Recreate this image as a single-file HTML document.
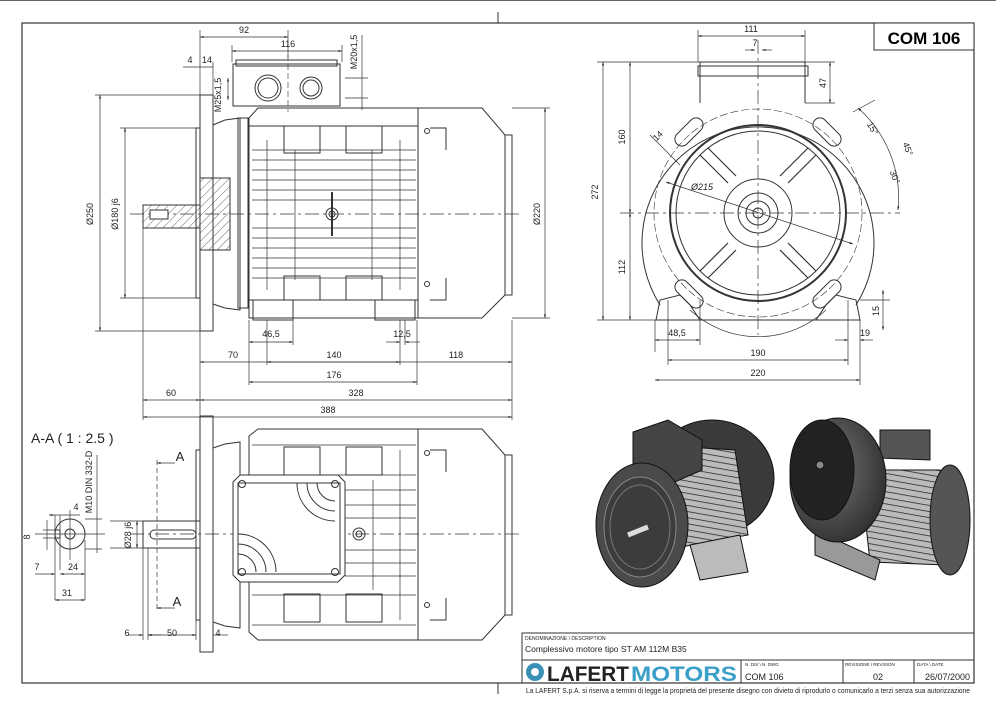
<!DOCTYPE html>
<html><head><meta charset="utf-8"><style>
html,body{margin:0;padding:0;background:#fff;}
svg{display:block;font-family:"Liberation Sans",Arial,sans-serif;}
</style></head><body>
<svg width="996" height="703" viewBox="0 0 996 703" xmlns="http://www.w3.org/2000/svg">
<defs>
<marker id="a" viewBox="0 0 10 10" refX="10" refY="5" markerWidth="6" markerHeight="5" orient="auto-start-reverse"><path d="M0,2 L10,5 L0,8z" fill="#222"/></marker>
<pattern id="h" width="6" height="6" patternUnits="userSpaceOnUse" patternTransform="rotate(45)"><line x1="0" y1="0" x2="0" y2="6" stroke="#444" stroke-width="0.8"/></pattern>
<pattern id="fin" width="6" height="6" patternUnits="userSpaceOnUse" patternTransform="rotate(10)"><rect width="6" height="6" fill="#bbb"/><line x1="0" y1="0" x2="6" y2="0" stroke="#222" stroke-width="1.5"/></pattern>
<radialGradient id="g1" cx="0.4" cy="0.4" r="0.7"><stop offset="0" stop-color="#777"/><stop offset="1" stop-color="#2a2a2a"/></radialGradient>
</defs>
<!-- frame -->
<line x1="0" y1="0.5" x2="996" y2="0.5" stroke="#666"/>
<rect x="22" y="23" width="952" height="660" fill="none" stroke="#333" stroke-width="1.2"/>
<line x1="498" y1="12" x2="498" y2="23" stroke="#333"/>
<line x1="498" y1="683" x2="498" y2="694" stroke="#333"/>
<rect x="874" y="23" width="100" height="27" fill="#fff" stroke="#333"/>
<text x="924" y="44" font-size="17" font-weight="bold" text-anchor="middle">COM 106</text>

<g fill="none" stroke="#333" stroke-width="1">
<!-- ===== TOP SIDE VIEW ===== -->
<line x1="130" y1="214" x2="520" y2="214" stroke-dasharray="14,4,3,4" stroke-width="0.7"/>
<rect x="200" y="95" width="13" height="236"/>
<rect x="196" y="128" width="4" height="170"/>
<path d="M213,125 L225,120 L240,118 L240,310 L225,308 L213,304"/>
<rect x="238" y="118" width="10" height="190"/>
<path d="M249,118 L258,108 L418,108 L418,318 L249,318 Z"/>
<line x1="249" y1="126" x2="418" y2="126"/>
<line x1="249" y1="300" x2="418" y2="300"/>
<g stroke-width="0.7">
<line x1="252" y1="150" x2="416" y2="150"/><line x1="252" y1="160" x2="416" y2="160"/><line x1="252" y1="170" x2="416" y2="170"/><line x1="252" y1="180" x2="416" y2="180"/><line x1="252" y1="190" x2="416" y2="190"/><line x1="252" y1="200" x2="416" y2="200"/><line x1="252" y1="228" x2="416" y2="228"/><line x1="252" y1="238" x2="416" y2="238"/><line x1="252" y1="248" x2="416" y2="248"/><line x1="252" y1="258" x2="416" y2="258"/><line x1="252" y1="268" x2="416" y2="268"/><line x1="252" y1="278" x2="416" y2="278"/>
<line x1="267" y1="140" x2="267" y2="290"/><line x1="295" y1="150" x2="295" y2="280"/><line x1="372" y1="150" x2="372" y2="280"/><line x1="400" y1="140" x2="400" y2="290"/>
</g>
<rect x="284" y="126" width="36" height="27"/><rect x="346" y="126" width="36" height="27"/>
<rect x="284" y="276" width="36" height="24"/><rect x="346" y="276" width="36" height="24"/>
<circle cx="332" cy="214" r="6"/><circle cx="332" cy="214" r="3"/>
<line x1="332" y1="192" x2="332" y2="236" stroke-width="2"/>
<rect x="253" y="300" width="40" height="20"/><rect x="375" y="300" width="40" height="20"/>
<path d="M418,108 L482,108 L505,135 L512,135 L512,295 L505,295 L482,318 L418,318 Z"/>
<line x1="505" y1="135" x2="505" y2="295"/>
<path d="M430,128 L446,128 L446,150 M430,300 L446,300 L446,278"/>
<circle cx="427" cy="131" r="2.5"/><circle cx="427" cy="284" r="2.5"/>
<!-- terminal box -->
<rect x="233" y="64" width="107" height="42"/>
<rect x="236" y="60" width="101" height="6"/>
<circle cx="268" cy="88" r="13"/><circle cx="268" cy="88" r="10"/>
<circle cx="311" cy="88" r="11"/><circle cx="311" cy="88" r="8"/>
<line x1="288" y1="55" x2="288" y2="112" stroke-dasharray="6,3" stroke-width="0.6"/>
<!-- shaft section -->
<path d="M143,205 L143,228 L200,228 L200,205 Z" fill="url(#h)"/>
<rect x="200" y="178" width="30" height="72" fill="url(#h)"/>
<rect x="150" y="210" width="18" height="9" fill="#fff"/>
<!-- dims top -->
<g stroke-width="0.7">
<line x1="200" y1="30" x2="200" y2="95"/><line x1="288" y1="30" x2="288" y2="58"/>
<line x1="200" y1="37" x2="288" y2="37" marker-start="url(#a)" marker-end="url(#a)"/>
<line x1="232" y1="45" x2="232" y2="62"/><line x1="342" y1="45" x2="342" y2="62"/>
<line x1="232" y1="51" x2="342" y2="51" marker-start="url(#a)" marker-end="url(#a)"/>
<line x1="183" y1="67" x2="213" y2="67"/><line x1="213" y1="62" x2="213" y2="95"/>
<line x1="228" y1="78" x2="228" y2="100" marker-start="url(#a)" marker-end="url(#a)"/>
<line x1="362" y1="35" x2="362" y2="110"/>
<line x1="345" y1="78" x2="368" y2="78"/><line x1="345" y1="98" x2="368" y2="98"/>
<line x1="95" y1="95" x2="200" y2="95"/><line x1="95" y1="331" x2="200" y2="331"/>
<line x1="100" y1="95" x2="100" y2="331" marker-start="url(#a)" marker-end="url(#a)"/>
<line x1="120" y1="128" x2="196" y2="128"/><line x1="120" y1="298" x2="196" y2="298"/>
<line x1="125" y1="128" x2="125" y2="298" marker-start="url(#a)" marker-end="url(#a)"/>
<line x1="512" y1="108" x2="550" y2="108"/><line x1="512" y1="318" x2="550" y2="318"/>
<line x1="545" y1="108" x2="545" y2="318" marker-start="url(#a)" marker-end="url(#a)"/>
<line x1="249" y1="320" x2="249" y2="385"/><line x1="267" y1="320" x2="267" y2="365"/><line x1="293" y1="320" x2="293" y2="345"/>
<line x1="249" y1="342" x2="293" y2="342" marker-start="url(#a)" marker-end="url(#a)"/>
<line x1="400" y1="320" x2="400" y2="365"/><line x1="405" y1="320" x2="405" y2="345"/><line x1="417" y1="320" x2="417" y2="385"/>
<line x1="386" y1="342" x2="400" y2="342" marker-end="url(#a)"/><line x1="420" y1="342" x2="405" y2="342" marker-end="url(#a)"/>
<line x1="200" y1="331" x2="200" y2="420"/><line x1="512" y1="320" x2="512" y2="420"/><line x1="143" y1="228" x2="143" y2="420"/>
<line x1="200" y1="362" x2="512" y2="362" marker-start="url(#a)" marker-end="url(#a)"/>
<line x1="267" y1="362" x2="400" y2="362" marker-start="url(#a)" marker-end="url(#a)"/>
<line x1="249" y1="382" x2="417" y2="382" marker-start="url(#a)" marker-end="url(#a)"/>
<line x1="143" y1="400" x2="200" y2="400" marker-start="url(#a)" marker-end="url(#a)"/>
<line x1="200" y1="400" x2="512" y2="400" marker-start="url(#a)" marker-end="url(#a)"/>
<line x1="143" y1="417" x2="512" y2="417" marker-start="url(#a)" marker-end="url(#a)"/>
</g>

<!-- ===== BOTTOM VIEW ===== -->
<line x1="130" y1="534" x2="520" y2="534" stroke-dasharray="14,4,3,4" stroke-width="0.7"/>
<rect x="200" y="416" width="13" height="236"/>
<rect x="196" y="450" width="4" height="170"/>
<path d="M213,448 L225,444 L240,442 L240,628 L225,626 L213,622"/>
<path d="M249,436 L258,429 L418,429 L418,640 L258,640 L249,632 Z"/>
<g stroke-width="0.7">
<line x1="252" y1="445" x2="416" y2="445"/><line x1="252" y1="475" x2="416" y2="475"/><line x1="345" y1="490" x2="416" y2="490"/><line x1="345" y1="505" x2="416" y2="505"/><line x1="345" y1="518" x2="416" y2="518"/><line x1="345" y1="550" x2="416" y2="550"/><line x1="345" y1="563" x2="416" y2="563"/><line x1="345" y1="576" x2="416" y2="576"/><line x1="252" y1="595" x2="416" y2="595"/><line x1="252" y1="625" x2="416" y2="625"/>
<line x1="373" y1="480" x2="373" y2="590"/><line x1="400" y1="450" x2="400" y2="620"/>
</g>
<rect x="284" y="447" width="36" height="28"/><rect x="346" y="447" width="36" height="28"/>
<rect x="284" y="594" width="36" height="28"/><rect x="346" y="594" width="36" height="28"/>
<circle cx="359" cy="534" r="6"/><circle cx="359" cy="534" r="3"/>
<path d="M418,429 L482,429 L505,455 L512,455 L512,615 L505,615 L482,640 L418,640 Z"/>
<line x1="505" y1="455" x2="505" y2="615"/>
<path d="M430,450 L446,450 L446,472 M430,620 L446,620 L446,598"/>
<circle cx="427" cy="453" r="2.5"/><circle cx="427" cy="605" r="2.5"/>
<path d="M240,475 L338,475 L345,482 L345,575 L338,582 L240,582 L233,575 L233,482 Z" fill="#fff"/>
<rect x="238" y="483" width="102" height="91"/>
<circle cx="242" cy="484" r="3.5"/><circle cx="335" cy="484" r="3.5"/><circle cx="242" cy="572" r="3.5"/><circle cx="335" cy="572" r="3.5"/>
<path d="M297,483 A38,38 0 0 0 335,521 M307,483 A28,28 0 0 0 335,511 M317,483 A18,18 0 0 0 335,501"/>
<path d="M238,534 A38,38 0 0 1 276,572 M238,544 A28,28 0 0 1 266,572 M238,554 A18,18 0 0 1 256,572"/>
<rect x="143" y="521" width="57" height="27"/>
<rect x="150" y="530" width="46" height="9" rx="4.5"/>
<g stroke-width="0.7">
<line x1="157" y1="460" x2="157" y2="610" stroke-dasharray="5,3"/>
<line x1="175" y1="463" x2="157" y2="463" marker-end="url(#a)"/>
<line x1="175" y1="608" x2="157" y2="608" marker-end="url(#a)"/>
<line x1="110" y1="521" x2="143" y2="521"/><line x1="110" y1="548" x2="143" y2="548"/>
<line x1="137" y1="521" x2="137" y2="548" marker-start="url(#a)" marker-end="url(#a)"/>
<line x1="143" y1="548" x2="143" y2="640"/><line x1="148" y1="548" x2="148" y2="640"/><line x1="196" y1="620" x2="196" y2="640"/>
<line x1="128" y1="635" x2="143" y2="635" marker-end="url(#a)"/><line x1="162" y1="635" x2="148" y2="635" marker-end="url(#a)"/>
<line x1="148" y1="635" x2="196" y2="635" marker-start="url(#a)" marker-end="url(#a)"/>
<line x1="213" y1="635" x2="228" y2="635"/>
</g>

<!-- Section A-A -->
<circle cx="70" cy="534" r="15"/>
<circle cx="70" cy="534" r="5"/>
<rect x="55" y="530" width="5" height="8"/>
<g stroke-width="0.7">
<line x1="35" y1="534" x2="105" y2="534"/>
<line x1="70" y1="510" x2="70" y2="560"/>
<line x1="47" y1="520" x2="47" y2="550"/><line x1="43" y1="530" x2="60" y2="530"/><line x1="43" y1="538" x2="60" y2="538"/>
<line x1="97" y1="455" x2="97" y2="553"/><line x1="85" y1="519" x2="102" y2="519"/><line x1="85" y1="549" x2="102" y2="549"/>
<line x1="55" y1="515" x2="55" y2="600"/><line x1="60" y1="515" x2="60" y2="570"/><line x1="85" y1="540" x2="85" y2="600"/>
<line x1="49" y1="515" x2="80" y2="515" marker-start="url(#a)"/>
<line x1="35" y1="574" x2="55" y2="574" marker-end="url(#a)"/>
<line x1="60" y1="574" x2="85" y2="574" marker-start="url(#a)" marker-end="url(#a)"/>
<line x1="55" y1="600" x2="85" y2="600" marker-start="url(#a)" marker-end="url(#a)"/>
</g>

<!-- ===== FRONT VIEW ===== -->
<g stroke-width="0.7">
<line x1="620" y1="213" x2="900" y2="213" stroke-dasharray="14,4,3,4"/>
<line x1="758" y1="40" x2="758" y2="335" stroke-dasharray="14,4,3,4"/>
</g>
<path d="M700,103 L700,62 L805,62 L805,103"/>
<rect x="698" y="66" width="110" height="10"/>
<path d="M660,305 A116,116 0 1 1 856,305"/>
<path d="M656,320 L660,300 L680,295 L690,305 L700,320 Z"/>
<path d="M860,320 L856,300 L836,295 L826,305 L816,320 Z"/>
<line x1="656" y1="320" x2="860" y2="320"/>
<path d="M690,310 A100,100 0 0 0 826,310" stroke-width="0.7"/>
<circle cx="758" cy="213" r="104" stroke-dasharray="8,3" stroke-width="0.6"/>
<circle cx="758" cy="213" r="88" stroke-width="2"/>
<circle cx="758" cy="213" r="82"/>
<circle cx="758" cy="213" r="34"/>
<circle cx="758" cy="213" r="20"/><circle cx="758" cy="213" r="12"/><circle cx="758" cy="213" r="5"/>
<g stroke-width="1.2">
<path d="M728,183 L700,155 M788,183 L816,155 M728,243 L700,271 M788,243 L816,271"/>
<path d="M736,176 L708,148 M780,176 L808,148 M736,250 L708,278 M780,250 L808,278"/>
</g>
<rect x="672" y="125" width="34" height="14" rx="7" transform="rotate(-45 689 132)"/>
<rect x="810" y="125" width="34" height="14" rx="7" transform="rotate(45 827 132)"/>
<rect x="672" y="287" width="34" height="14" rx="7" transform="rotate(45 689 294)"/>
<rect x="810" y="287" width="34" height="14" rx="7" transform="rotate(-45 827 294)"/>
<g stroke-width="0.7">
<line x1="698" y1="62" x2="698" y2="30"/><line x1="805" y1="62" x2="805" y2="30"/>
<line x1="698" y1="36" x2="805" y2="36" marker-start="url(#a)" marker-end="url(#a)"/>
<line x1="745" y1="50" x2="755" y2="50" marker-end="url(#a)"/><line x1="772" y1="50" x2="762" y2="50" marker-end="url(#a)"/>
<line x1="805" y1="62" x2="835" y2="62"/><line x1="805" y1="103" x2="835" y2="103"/>
<line x1="830" y1="62" x2="830" y2="103" marker-start="url(#a)" marker-end="url(#a)"/>
<line x1="597" y1="62" x2="700" y2="62"/><line x1="597" y1="320" x2="656" y2="320"/>
<line x1="603" y1="62" x2="603" y2="320" marker-start="url(#a)" marker-end="url(#a)"/>
<line x1="630" y1="62" x2="630" y2="213" marker-start="url(#a)" marker-end="url(#a)"/>
<line x1="630" y1="213" x2="630" y2="320" marker-start="url(#a)" marker-end="url(#a)"/>
<line x1="666" y1="182" x2="853" y2="244" marker-start="url(#a)" marker-end="url(#a)"/>
<line x1="650" y1="135" x2="680" y2="165"/>
<path d="M858,108 A120,120 0 0 1 898,210" marker-start="url(#a)" marker-end="url(#a)"/>
<line x1="853" y1="112" x2="875" y2="100"/>
<line x1="655" y1="320" x2="655" y2="352"/><line x1="700" y1="300" x2="700" y2="345"/>
<line x1="655" y1="340" x2="700" y2="340" marker-start="url(#a)" marker-end="url(#a)"/>
<line x1="668" y1="300" x2="668" y2="365"/><line x1="848" y1="300" x2="848" y2="365"/>
<line x1="668" y1="360" x2="848" y2="360" marker-start="url(#a)" marker-end="url(#a)"/>
<line x1="860" y1="320" x2="860" y2="385"/><line x1="655" y1="380" x2="860" y2="380" marker-start="url(#a)" marker-end="url(#a)"/>
<line x1="835" y1="340" x2="848" y2="340" marker-end="url(#a)"/><line x1="873" y1="340" x2="860" y2="340" marker-end="url(#a)"/>
<line x1="860" y1="300" x2="890" y2="300"/>
<line x1="883" y1="290" x2="883" y2="330" marker-start="url(#a)" marker-end="url(#a)"/>
</g>
</g>

<!-- dim text -->
<g font-size="9" fill="#222" text-anchor="middle">
<text x="244" y="33">92</text><text x="288" y="47">116</text>
<text x="190" y="63">4</text><text x="207" y="63">14</text>
<text x="221" y="95" transform="rotate(-90 221 95)">M25x1,5</text>
<text x="357" y="52" transform="rotate(-90 357 52)">M20x1,5</text>
<text x="93" y="214" transform="rotate(-90 93 214)">Ø250</text>
<text x="118" y="214" transform="rotate(-90 118 214)">Ø180 j6</text>
<text x="540" y="214" transform="rotate(-90 540 214)">Ø220</text>
<text x="271" y="337">46,5</text><text x="402" y="337">12,5</text>
<text x="233" y="358">70</text><text x="334" y="358">140</text><text x="456" y="358">118</text>
<text x="334" y="378">176</text><text x="171" y="396">60</text><text x="356" y="396">328</text><text x="328" y="413">388</text>
<text x="180" y="461" font-size="13">A</text><text x="177" y="606" font-size="13">A</text>
<text x="131" y="535" transform="rotate(-90 131 535)">Ø28 j6</text>
<text x="127" y="636">6</text><text x="172" y="636">50</text><text x="218" y="636">4</text>
<text x="92" y="482" transform="rotate(-90 92 482)">M10 DIN 332-D</text>
<text x="76" y="510">4</text><text x="30" y="537" transform="rotate(-90 30 537)">8</text>
<text x="37" y="570">7</text><text x="73" y="570">24</text><text x="67" y="596">31</text>
<text x="751" y="32">111</text><text x="755" y="46">7</text>
<text x="826" y="83" transform="rotate(-90 826 83)">47</text>
<text x="598" y="192" transform="rotate(-90 598 192)">272</text>
<text x="625" y="137" transform="rotate(-90 625 137)">160</text>
<text x="625" y="267" transform="rotate(-90 625 267)">112</text>
<text x="702" y="190" font-style="italic">Ø215</text>
<text x="660" y="138" transform="rotate(-45 660 138)">14</text>
<text x="870" y="130" transform="rotate(60 870 130)">15°</text>
<text x="905" y="150" transform="rotate(70 905 150)">45°</text>
<text x="892" y="178" transform="rotate(70 892 178)">30°</text>
<text x="677" y="336">48,5</text><text x="758" y="356">190</text><text x="865" y="336">19</text>
<text x="758" y="376">220</text><text x="879" y="311" transform="rotate(-90 879 311)">15</text>
</g>
<text x="31" y="443" font-size="14" fill="#222">A-A ( 1 : 2.5 )</text>

<!-- 3D renders (approx) -->
<g stroke="#111" stroke-width="1">
<ellipse cx="712" cy="478" rx="62" ry="58" fill="#3a3a3a"/>
<path d="M655,445 L735,450 L748,535 L675,548 Z" fill="url(#fin)"/>
<path d="M633,432 L668,420 L702,440 L702,470 L668,485 L633,465 Z" fill="#444"/>
<path d="M690,545 L740,535 L748,572 L700,580 Z" fill="#bbb"/>
<ellipse cx="642" cy="525" rx="46" ry="62" fill="#4a4a4a"/>
<ellipse cx="640" cy="527" rx="36" ry="50" fill="#3c3c3c" stroke="#888"/>
<ellipse cx="640" cy="527" rx="30" ry="42" fill="none" stroke="#777"/>
<line x1="628" y1="535" x2="648" y2="527" stroke="#ddd" stroke-width="5"/>
<path d="M860,470 L940,470 L960,520 L945,565 L870,562 Z" fill="url(#fin)"/>
<path d="M880,430 L930,430 L930,460 L880,458 Z" fill="#555"/>
<path d="M815,530 L880,560 L875,580 L815,555 Z" fill="#999"/>
<ellipse cx="950" cy="520" rx="20" ry="55" fill="#555"/>
<ellipse cx="838" cy="480" rx="48" ry="62" fill="url(#g1)"/>
<ellipse cx="822" cy="470" rx="32" ry="50" fill="#222"/>
<circle cx="820" cy="465" r="4" fill="#888"/>
</g>

<!-- title block -->
<g fill="none" stroke="#333">
<rect x="522" y="633" width="452" height="50"/>
<line x1="522" y1="660" x2="974" y2="660"/>
<line x1="741" y1="660" x2="741" y2="683"/><line x1="843" y1="660" x2="843" y2="683"/><line x1="914" y1="660" x2="914" y2="683"/>
</g>
<g fill="#222">
<text x="525" y="640" font-size="5">DENOMINAZIONE \ DESCRIPTION</text>
<text x="525" y="652" font-size="8.5">Complessivo motore tipo ST AM 112M B35</text>
<text x="745" y="666" font-size="4.5">N. DIS \ N. DWG</text>
<text x="845" y="666" font-size="4.5">REVISIONE \ REVISION</text>
<text x="917" y="666" font-size="4.5">DATA \ DATE</text>
<text x="745" y="680" font-size="9">COM 106</text>
<text x="878" y="680" font-size="9" text-anchor="middle">02</text>
<text x="970" y="680" font-size="9" text-anchor="end">26/07/2000</text>
<text x="526" y="693" font-size="7.5" textLength="444" lengthAdjust="spacingAndGlyphs">La LAFERT S.p.A. si riserva a termini di legge la proprietà del presente disegno con divieto di riprodurlo o comunicarlo a terzi senza sua autorizzazione</text>
</g>
<circle cx="535" cy="672" r="9" fill="#3a8fb7"/>
<circle cx="535" cy="672" r="4" fill="#fff"/>
<text x="547" y="681" font-size="21" font-weight="bold" fill="#222" textLength="82" lengthAdjust="spacingAndGlyphs">LAFERT</text>
<text x="631" y="681" font-size="21" font-weight="bold" fill="#3a9fc9" textLength="106" lengthAdjust="spacingAndGlyphs">MOTORS</text>
</svg>
</body></html>
